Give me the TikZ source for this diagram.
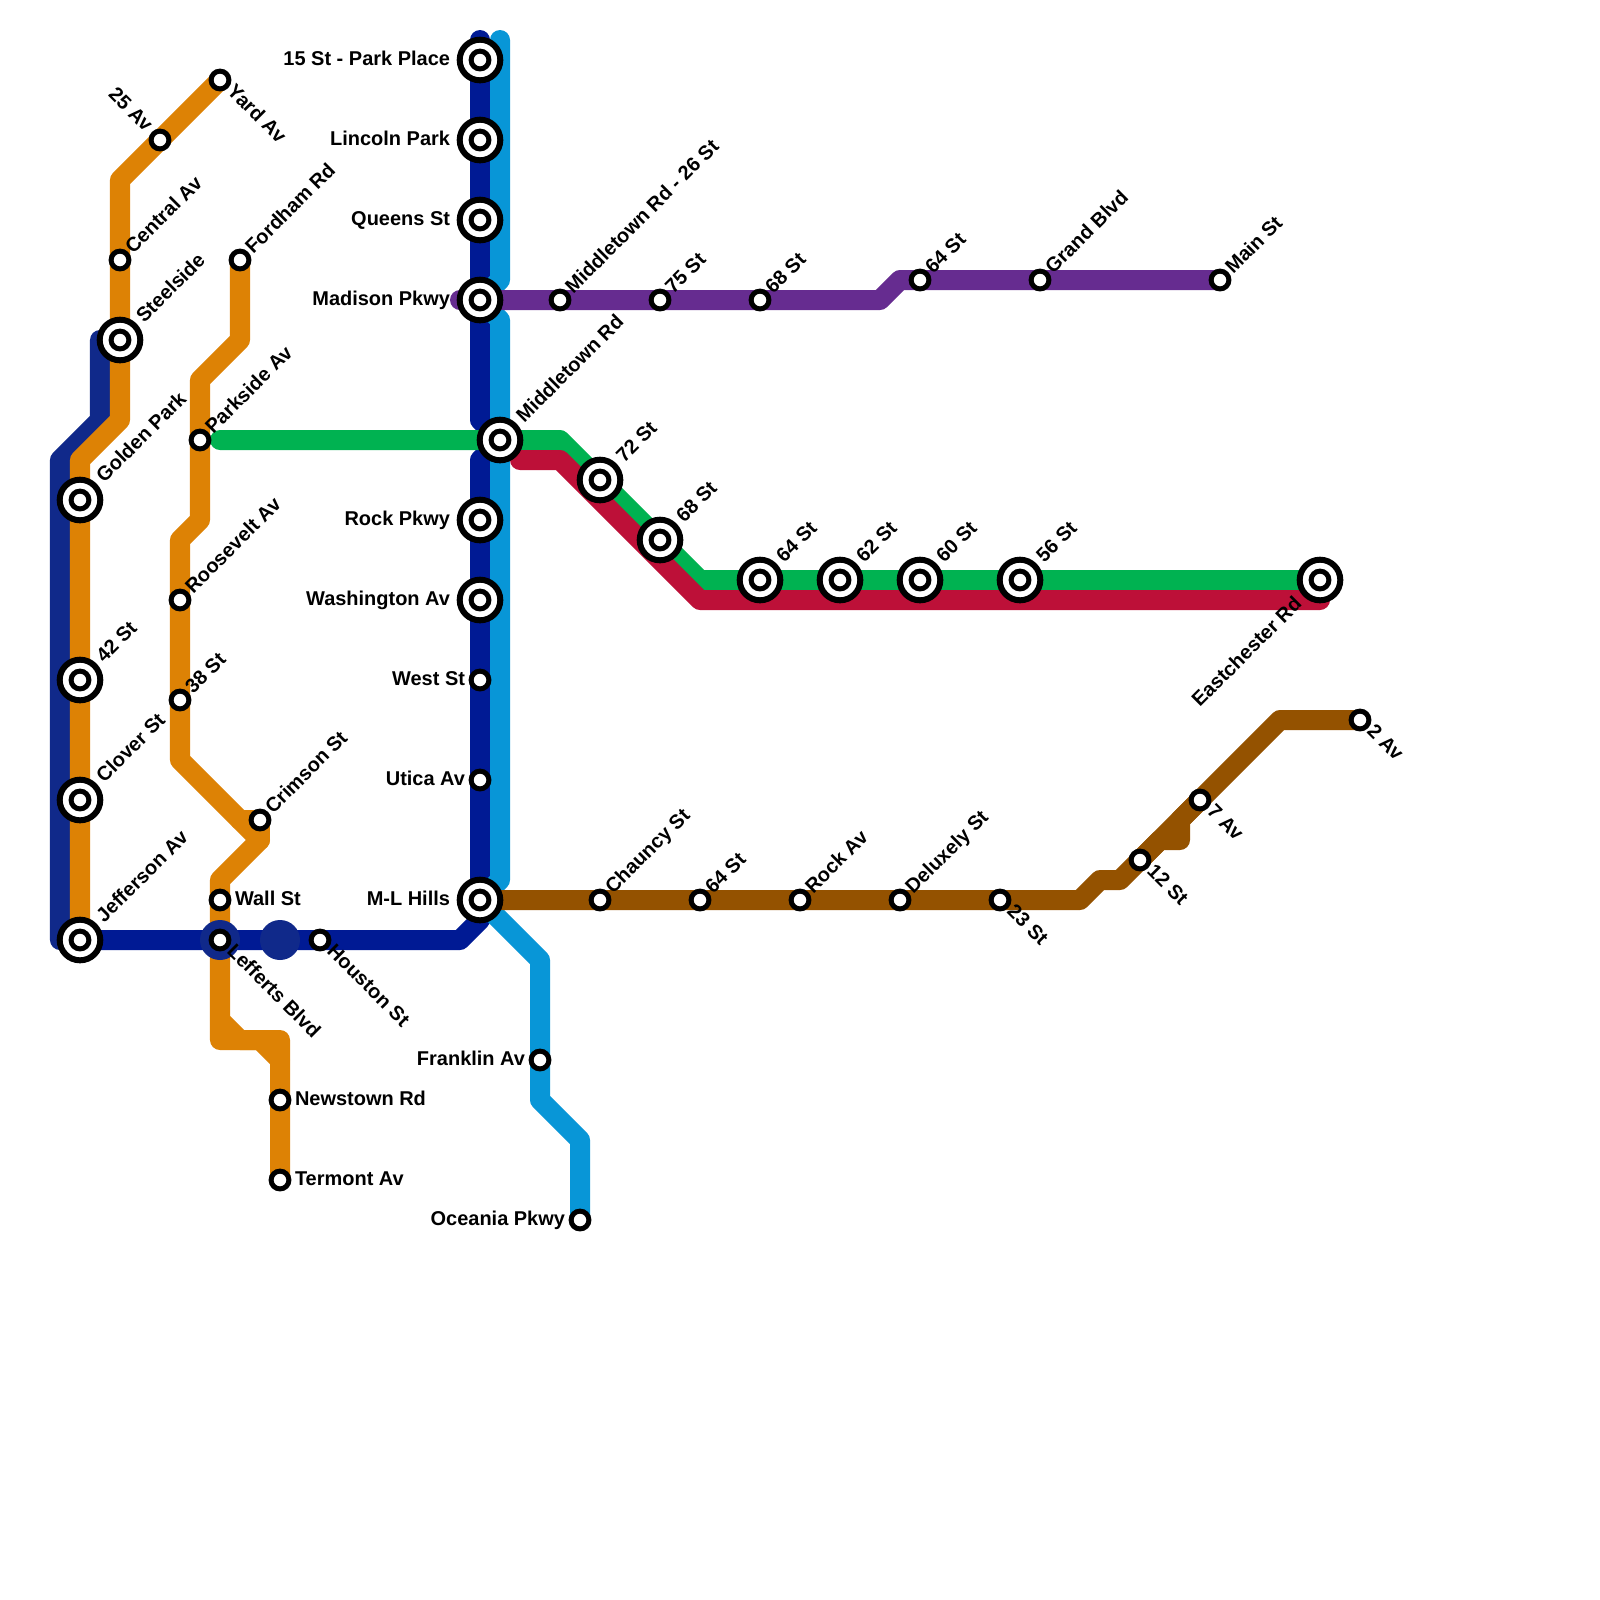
\documentclass[tikz,border=0pt]{standalone}
\usepackage{fontspec}
\setmainfont{Liberation Sans}
\usetikzlibrary{positioning,calc}
\definecolor{metroNavy}{HTML}{001A94}
\definecolor{metroDusk}{HTML}{10298A}
\definecolor{metroSky}{HTML}{0896D7}
\definecolor{metroOrange}{HTML}{DD8205}
\definecolor{metroGreen}{HTML}{00B251}
\definecolor{metroRed}{HTML}{BD1038}
\definecolor{metroPurple}{HTML}{662C90}
\definecolor{metroBrown}{HTML}{945200}
\tikzset{
  metroline/.style={line width=0.5cm, line join=round, line cap=round},
  navyline/.style={metroline, draw=metroNavy},
  duskline/.style={metroline, draw=metroDusk},
  skyline/.style={metroline, draw=metroSky},
  orangeline/.style={metroline, draw=metroOrange},
  greenline/.style={metroline, draw=metroGreen},
  redline/.style={metroline, draw=metroRed},
  purpleline/.style={metroline, draw=metroPurple},
  brownline/.style={metroline, draw=metroBrown},
  duskdot/.style={circle, fill=metroDusk, minimum size=1cm, inner sep=0pt, outer sep=0pt},
  stopring/.style={circle, draw=black, fill=white, line width=0.125cm, minimum size=0.445cm, inner sep=0pt, outer sep=0pt},
  hubring/.style={circle, draw=black, fill=white, line width=0.15cm, minimum size=1.015cm, inner sep=0pt, outer sep=0pt},
  stoplab/.style={font=\bfseries\fontsize{14.2}{14.2}\selectfont, inner sep=0pt, outer sep=0pt, text height=0.37cm, text depth=0.09cm},
  labne/.style={stoplab, rotate=45, anchor=west, xshift=#1},
  labne/.default=0.33cm,
  labse/.style={stoplab, rotate=-45, anchor=west, xshift=#1, yshift=0.03cm},
  labse/.default=0.33cm,
  labnw/.style={stoplab, rotate=-45, anchor=east, xshift=-#1},
  labnw/.default=0.4cm,
  labsw/.style={stoplab, rotate=45, anchor=east, xshift=-#1},
  labsw/.default=0.75cm,
  labw/.style={stoplab, anchor=east, xshift=-#1},
  labw/.default=0.375cm,
  labe/.style={stoplab, anchor=west, xshift=#1},
  labe/.default=0.375cm
}
\begin{document}
\begin{tikzpicture}[x=0.025cm, y=-0.025cm]
\useasboundingbox (0,0) rectangle (1600,1600);
% stations
\coordinate (yard) at (220,80);
\coordinate (av25) at (160,140);
\coordinate (central) at (120,260);
\coordinate (steelside) at (120,340);
\coordinate (fordham) at (240,260);
\coordinate (parkside) at (200,440);
\coordinate (golden) at (80,500);
\coordinate (roosevelt) at (180,600);
\coordinate (st42) at (80,680);
\coordinate (st38) at (180,700);
\coordinate (clover) at (80,800);
\coordinate (crimson) at (260,820);
\coordinate (wall) at (220,900);
\coordinate (jefferson) at (80,940);
\coordinate (lefferts) at (220,940);
\coordinate (houston) at (320,940);
\coordinate (newstown) at (280,1100);
\coordinate (termont) at (280,1180);
\coordinate (parkplace) at (480,60);
\coordinate (lincoln) at (480,140);
\coordinate (queens) at (480,220);
\coordinate (madison) at (480,300);
\coordinate (rock) at (480,520);
\coordinate (washington) at (480,600);
\coordinate (west) at (480,680);
\coordinate (utica) at (480,780);
\coordinate (hills) at (480,900);
\coordinate (franklin) at (540,1060);
\coordinate (oceania) at (580,1220);
\coordinate (midtown) at (500,440);
\coordinate (mid26) at (560,300);
\coordinate (pst75) at (660,300);
\coordinate (pst68) at (760,300);
\coordinate (pst64) at (920,280);
\coordinate (grand) at (1040,280);
\coordinate (mainst) at (1220,280);
\coordinate (gst72) at (600,480);
\coordinate (gst68) at (660,540);
\coordinate (gst64) at (760,580);
\coordinate (gst62) at (840,580);
\coordinate (gst60) at (920,580);
\coordinate (gst56) at (1020,580);
\coordinate (eastchester) at (1320,580);
\coordinate (chauncy) at (600,900);
\coordinate (bst64) at (700,900);
\coordinate (rockav) at (800,900);
\coordinate (deluxely) at (900,900);
\coordinate (bst23) at (1000,900);
\coordinate (bst12) at (1140,860);
\coordinate (av7) at (1200,800);
\coordinate (av2) at (1360,720);
\coordinate (dotmid) at (280,940);
% bends
\coordinate (d1) at (100,340);
\coordinate (d2) at (100,420);
\coordinate (d3) at (60,460);
\coordinate (d4) at (60,940);
\coordinate (n1) at (480,40);
\coordinate (n2) at (480,420);
\coordinate (n3) at (480,460);
\coordinate (n4) at (480,920);
\coordinate (n5) at (460,940);
\coordinate (s1) at (500,40);
\coordinate (s2) at (500,280);
\coordinate (s3) at (500,320);
\coordinate (s4) at (500,880);
\coordinate (s5) at (540,960);
\coordinate (s6) at (540,1100);
\coordinate (s7) at (580,1140);
\coordinate (o1) at (120,180);
\coordinate (o2) at (120,420);
\coordinate (o3) at (80,460);
\coordinate (o4) at (240,340);
\coordinate (o5) at (200,380);
\coordinate (o6) at (200,520);
\coordinate (o7) at (180,540);
\coordinate (o8) at (180,760);
\coordinate (o9) at (240,820);
\coordinate (o10) at (260,840);
\coordinate (o11) at (220,880);
\coordinate (o12) at (220,1020);
\coordinate (o13) at (240,1040);
\coordinate (o14) at (280,1040);
\coordinate (o15) at (220,1040);
\coordinate (o16) at (260,1040);
\coordinate (o17) at (280,1060);
\coordinate (g1) at (220,440);
\coordinate (g2) at (560,440);
\coordinate (g3) at (700,580);
\coordinate (r1) at (520,460);
\coordinate (r2) at (560,460);
\coordinate (r3) at (700,600);
\coordinate (r4) at (1320,600);
\coordinate (p1) at (460,300);
\coordinate (p2) at (880,300);
\coordinate (p3) at (900,280);
\coordinate (b1) at (1080,900);
\coordinate (b2) at (1100,880);
\coordinate (b3) at (1120,880);
\coordinate (b4) at (1280,720);
\coordinate (b5) at (1160,840);
\coordinate (b6) at (1180,840);
\coordinate (b7) at (1180,820);

% lines
\draw[duskline] (d1) -- (d2) -- (d3) -- (d4) -- (jefferson);
\draw[navyline] (n1) -- (n2) -- (midtown) -- (n3) -- (n4) -- (n5) -- (jefferson);
\draw[skyline] (s1) -- (s2) -- (madison) -- (s3) -- (s4) -- (hills) -- (s5) -- (s6) -- (s7) -- (oceania);
\draw[orangeline] (yard) -- (o1) -- (o2) -- (o3) -- (jefferson);
\draw[orangeline] (fordham) -- (o4) -- (o5) -- (o6) -- (o7) -- (o8) -- (o10) -- (o11) -- (o12) -- (o13) -- (o14) -- (termont);
\draw[orangeline] (o9) -- (crimson) -- (o10);
\draw[orangeline] (o12) -- (o15) -- (o16) -- (o17);
\draw[greenline] (g1) -- (g2) -- (g3) -- (eastchester);
\draw[redline] (r1) -- (r2) -- (r3) -- (r4);
\draw[purpleline] (p1) -- (p2) -- (p3) -- (mainst);
\draw[brownline] (hills) -- (b1) -- (b2) -- (b3) -- (b4) -- (av2);
\draw[brownline] (bst12) -- (b5) -- (b6) -- (b7) -- (av7);

\node[duskdot] (dotleft) at (lefferts) {};
\node[duskdot] (dotright) at (dotmid) {};

% stops
\foreach \n in {steelside,golden,st42,clover,jefferson,parkplace,lincoln,queens,madison,rock,washington,hills,midtown,gst72,gst68,gst64,gst62,gst60,gst56,eastchester}
  \node[hubring] (\n-hub) at (\n) {};
\foreach \n in {steelside,golden,st42,clover,jefferson,parkplace,lincoln,queens,madison,rock,washington,hills,midtown,gst72,gst68,gst64,gst62,gst60,gst56,eastchester,
  yard,av25,central,fordham,parkside,roosevelt,st38,crimson,wall,lefferts,houston,newstown,termont,west,utica,franklin,oceania,mid26,pst75,pst68,pst64,grand,mainst,chauncy,bst64,rockav,deluxely,bst23,bst12,av7,av2}
  \node[stopring] (\n-stop) at (\n) {};

% labels
\node[labse] (yard-lab) at (yard) {Yard Av};
\node[labnw] (av25-lab) at (av25) {25 Av};
\node[labne] (central-lab) at (central) {Central Av};
\node[labne=0.72cm] (steelside-lab) at (steelside) {Steelside};
\node[labne] (fordham-lab) at (fordham) {Fordham Rd};
\node[labne] (parkside-lab) at (parkside) {Parkside Av};
\node[labne=0.72cm] (golden-lab) at (golden) {Golden Park};
\node[labne] (roosevelt-lab) at (roosevelt) {Roosevelt Av};
\node[labne=0.72cm] (st42-lab) at (st42) {42 St};
\node[labne] (st38-lab) at (st38) {38 St};
\node[labne=0.72cm] (clover-lab) at (clover) {Clover St};
\node[labne] (crimson-lab) at (crimson) {Crimson St};
\node[labe] (wall-lab) at (wall) {Wall St};
\node[labne=0.72cm] (jefferson-lab) at (jefferson) {Jefferson Av};
\node[labse] (lefferts-lab) at (lefferts) {Lefferts Blvd};
\node[labse] (houston-lab) at (houston) {Houston St};
\node[labe] (newstown-lab) at (newstown) {Newstown Rd};
\node[labe] (termont-lab) at (termont) {Termont Av};
\node[labw=0.75cm] (parkplace-lab) at (parkplace) {15 St - Park Place};
\node[labw=0.75cm] (lincoln-lab) at (lincoln) {Lincoln Park};
\node[labw=0.75cm] (queens-lab) at (queens) {Queens St};
\node[labw=0.75cm] (madison-lab) at (madison) {Madison Pkwy};
\node[labw=0.75cm] (rock-lab) at (rock) {Rock Pkwy};
\node[labw=0.75cm] (washington-lab) at (washington) {Washington Av};
\node[labw] (west-lab) at (west) {West St};
\node[labw] (utica-lab) at (utica) {Utica Av};
\node[labw=0.75cm] (hills-lab) at (hills) {M-L Hills};
\node[labw] (franklin-lab) at (franklin) {Franklin Av};
\node[labw] (oceania-lab) at (oceania) {Oceania Pkwy};
\node[labne=0.72cm] (midtown-lab) at (midtown) {Middletown Rd};
\node[labne] (mid26-lab) at (mid26) {Middletown Rd - 26 St};
\node[labne] (pst75-lab) at (pst75) {75 St};
\node[labne] (pst68-lab) at (pst68) {68 St};
\node[labne] (pst64-lab) at (pst64) {64 St};
\node[labne] (grand-lab) at (grand) {Grand Blvd};
\node[labne] (mainst-lab) at (mainst) {Main St};
\node[labne=0.72cm] (gst72-lab) at (gst72) {72 St};
\node[labne=0.72cm] (gst68-lab) at (gst68) {68 St};
\node[labne=0.72cm] (gst64-lab) at (gst64) {64 St};
\node[labne=0.72cm] (gst62-lab) at (gst62) {62 St};
\node[labne=0.72cm] (gst60-lab) at (gst60) {60 St};
\node[labne=0.72cm] (gst56-lab) at (gst56) {56 St};
\node[labsw] (eastchester-lab) at (eastchester) {Eastchester Rd};
\node[labne] (chauncy-lab) at (chauncy) {Chauncy St};
\node[labne] (bst64-lab) at (bst64) {64 St};
\node[labne] (rockav-lab) at (rockav) {Rock Av};
\node[labne] (deluxely-lab) at (deluxely) {Deluxely St};
\node[labse] (bst23-lab) at (bst23) {23 St};
\node[labse] (bst12-lab) at (bst12) {12 St};
\node[labse] (av7-lab) at (av7) {7 Av};
\node[labse] (av2-lab) at (av2) {2 Av};
\end{tikzpicture}
\end{document}
